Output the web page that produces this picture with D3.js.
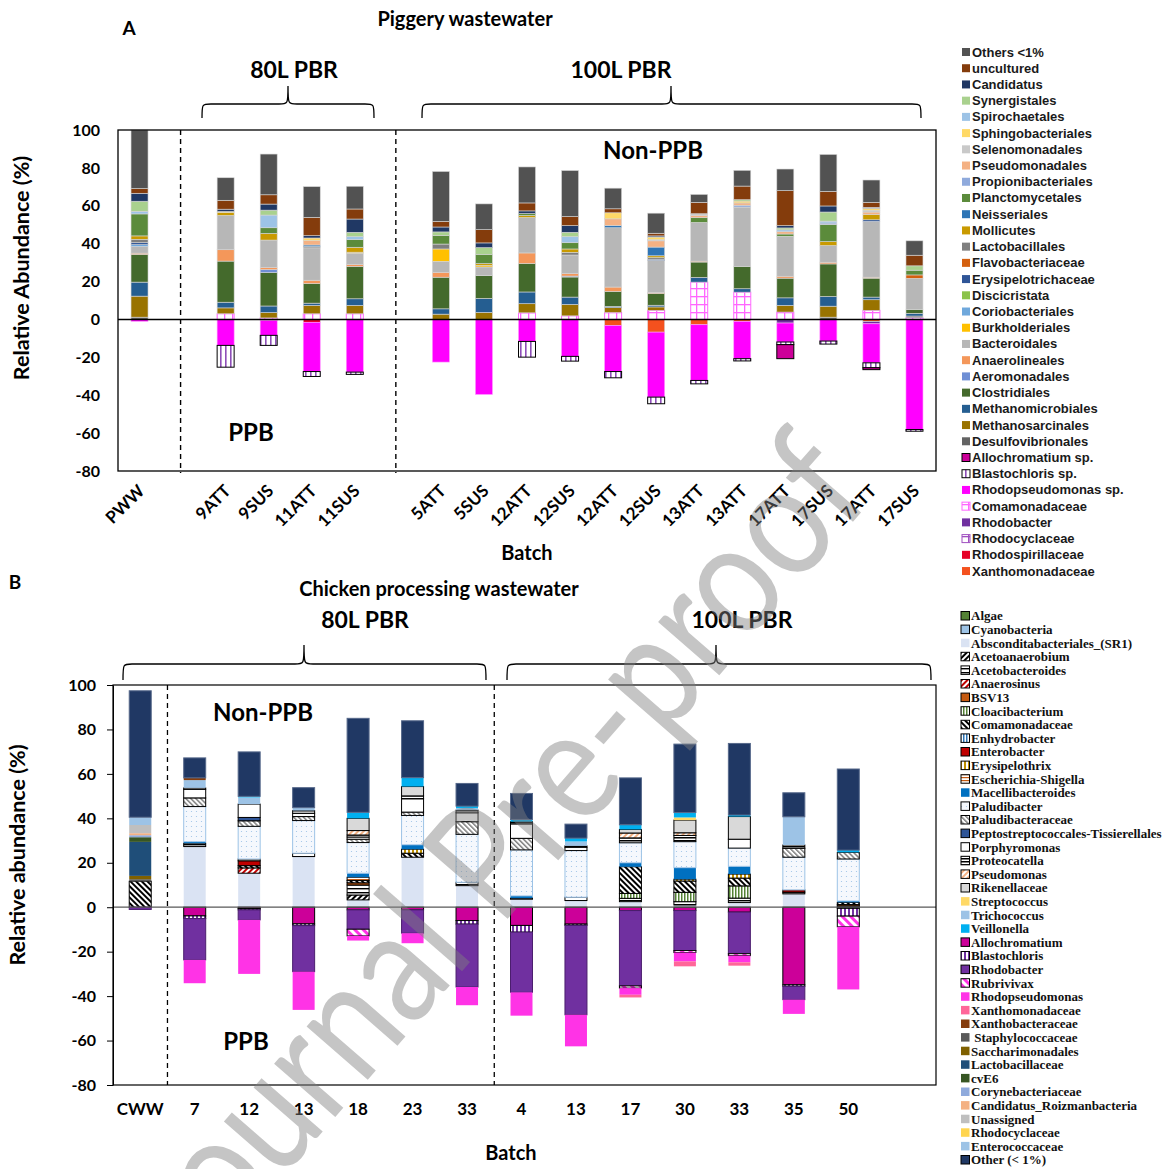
<!DOCTYPE html>
<html><head><meta charset="utf-8">
<script src="https://cdn.jsdelivr.net/npm/d3@7"></script>
<style>body{margin:0;background:#fff}text{white-space:pre}</style>
</head><body>
<svg id="c" width="1171" height="1169"></svg>
<script>
// ---------------- PANEL A DATA ----------------
const slotsA = ["PWW","","9ATT","9SUS","11ATT","11SUS","","5ATT","5SUS","12ATT","12SUS","12ATT","12SUS","13ATT","13ATT","17ATT","17SUS","17ATT","17SUS"];
const seriesA = ["Others <1%","uncultured","Candidatus","Synergistales","Spirochaetales","Sphingobacteriales","Selenomonadales","Pseudomonadales","Propionibacteriales","Planctomycetales","Neisseriales","Mollicutes","Lactobacillales","Flavobacteriaceae","Erysipelotrichaceae","Discicristata","Coriobacteriales","Burkholderiales","Bacteroidales","Anaerolineales","Aeromonadales","Clostridiales","Methanomicrobiales","Methanosarcinales","Desulfovibrionales","Allochromatium sp.","Blastochloris sp.","Rhodopseudomonas sp.","Comamonadaceae","Rhodobacter","Rhodocyclaceae","Rhodospirillaceae","Xanthomonadaceae"];
const valuesA = [
 [30.9,0,11.9,21.5,16.2,12.0,0,26.3,13.6,19.0,24.3,10.9,10.6,4.2,8.3,11.4,19.5,11.8,7.6],
 [2.5,0,4.7,4.9,9.7,5.3,0,3.0,7.0,4.2,4.8,2.1,1.4,6.0,7.2,18.5,7.7,2.6,5.6],
 [4.2,0,1.2,3.2,1.2,7.0,0,2.6,2.5,1.4,3.5,0,0.6,0,0,1.2,3.2,0.5,0],
 [5.3,0,0,2.6,0,2.3,0,1.8,3.5,0,2.3,0,0,0,0.7,1.0,4.8,0,2.3],
 [1.4,0,0,6.7,0,1.6,0,0,0,0,3.2,0,0,0,0,1.0,1.0,0,0],
 [0,0,0.6,0,1.4,0,0,0,0,0,0,3.2,1.4,0,1.0,0,0,1.0,0],
 [0,0,0,0,0,0,0,0,0,0,0,0,0.6,0.8,0,0,0,1.0,0],
 [0,0,0,0,2.3,0,0,0,0,0,0,3.5,3.3,1.3,1.2,1.2,0,1.3,0],
 [0,0,0,0,0,0,0,0,0,0,0,0,0,0,1.0,0,0.8,0,0],
 [11.6,0,0,3.0,0,4.0,0,4.6,4.9,1.0,3.3,0,0,2.5,0,1.2,9.0,0,2.5],
 [0,0,0,0,0.9,0,0,0,0,0,0,1.2,4.6,0,0,0,0,0,0],
 [1.8,0,1.5,3.5,0,2.6,0,0,0.9,1.1,1.8,0,1.0,0,0,0,2.1,2.8,0],
 [1.8,0,0,0,0.6,0,0,2.6,0,0,1.4,0,0.8,0,0,0,0,0,0],
 [0,0,0,0,0,0,0,0,0,0,0,0,0,0,0,0,0,0,1.8],
 [1.0,0,0,0,0,0,0,0,0,0,0,0,0.7,0,0,0,0,0.9,0],
 [0,0,0,0,0,0,0,0,0,0,0,0,0,0,0,0,0,0,0],
 [1.0,0,0,0,0,0,0,0,0,0,0,0,0,0,0,0,0,0,0],
 [0,0,0,0,0,0.5,0,6.5,0.9,0,0,0,0,0,0,0,0,0,0],
 [3.5,0,18.1,14.4,17.1,6.0,0,5.8,4.6,18.7,9.7,31.3,16.9,20.4,31.3,21.1,8.8,29.4,16.4],
 [0.7,0,6.0,1.2,1.8,1.0,0,2.6,0,5.6,1.4,2.3,0.5,0.5,0,1.0,0.9,0.5,0],
 [0,0,0,1.6,0,0,0,0,0,0,0.5,0,0,0,0,0,0,0,0],
 [14.6,0,21.7,17.6,10.3,17.1,0,16.7,12.0,15.0,10.6,7.9,6.2,8.1,11.8,10.4,17.2,10.0,2.1],
 [7.4,0,3.0,3.5,1.2,3.5,0,2.8,7.4,6.2,3.9,0.7,0.9,2.5,1.8,4.0,5.1,1.4,1.4],
 [11.1,0,3.1,2.8,4.4,4.4,0,2.8,3.7,4.8,6.0,2.5,1.8,0,0,3.5,5.8,5.6,0],
 [1.2,0,0,0,0,0,0,0,0,0,0,0,0,0,0,0,1.2,0,0.9],
 [0,0,0,0,0,0,0,0,0,0,0,0,0,0,0,-7.4,0,-1.0,0],
 [0,0,-11.5,-5.3,-2.6,-1.2,0,0,0,-8.3,-2.5,-3.3,-3.5,-1.8,-1.2,-1.4,-1.6,-2.6,-0.9],
 [-1.0,0,-13.7,-7.9,-26.0,-27.8,0,-22.5,-39.6,-11.6,-19.5,-24.3,-34.3,-29.4,-19.7,-10.0,-11.4,-20.6,-58.1],
 [0,0,3.0,0.8,3.0,3.0,0,0,0,3.5,1.9,3.7,4.8,19.7,14.4,3.9,0,4.8,0.9],
 [0,0,0,0,0,0,0,0,0,0,0,0,0,0,0,-1.9,0,-1.2,0],
 [0,0,0,0,0,0,0,0,0,0,0,0,0,0,0,0,0,0,0],
 [0,0,0,-0.5,-1.5,0,0,0,0,0,0,0,0,0,0,0,0,0,0],
 [0,0,0,0,0,0,0,0,0,0,0,-3.2,-6.7,-2.8,-1.0,0,0,-1.1,0]
];
const ticksA = [100,80,60,40,20,0,-20,-40,-60,-80];

// ---------------- PANEL B DATA ----------------
const catsB = ["CWW","7","12","13","18","23","33","4","13","17","30","33","35","50"];
const seriesB = ["Algae","Cyanobacteria","Absconditabacteriales_(SR1)","Acetoanaerobium","Acetobacteroides","Anaerosinus","BSV13","Cloacibacterium","Comamonadaceae","Enhydrobacter","Enterobacter","Erysipelothrix","Escherichia-Shigella","Macellibacteroides","Paludibacter","Paludibacteraceae","Peptostreptococcales-Tissierellales","Porphyromonas","Proteocatella","Pseudomonas","Rikenellaceae","Streptococcus","Trichococcus","Veillonella","Allochromatium","Blastochloris","Rhodobacter","Rubrivivax","Rhodopseudomonas","Xanthomonadaceae","Xanthobacteraceae"," Staphylococcaceae","Saccharimonadales","Lactobacillaceae","cvE6","Corynebacteriaceae","Candidatus_Roizmanbacteria","Unassigned","Rhodocyclaceae","Enterococcaceae","Other (< 1%)"];
const valuesB = [
 [0,0,0,0,0,0,0,0,0,0,0,0,0,0],
 [0,0,0,0,0,0,0,0,0,0,0,0,0,0],
 [0,27.3,15.3,22.8,3.3,22.5,9.7,3.6,3.0,2.5,1.0,2.1,6.0,0],
 [0,0,0,0,2.2,0,0,0,0,0,0,0,0,0],
 [0,1.5,0,1.5,4.5,0,1.5,0.5,1.5,1.5,1.5,2.0,0.8,0.6],
 [0,0,2.4,0,0,0,0,0,0,0,0,0,0,0],
 [0,0,0,0,1.0,0,0,0,0,0,0,0,0,0.6],
 [0,0,0,0,0,0,0,0,0,2.2,4.2,5.5,0,0],
 [11.7,0,1.0,0,1.0,1.8,0,0,0,12.0,5.1,3.5,0,1.0],
 [0,0,0,0,0,0,0,0,0,0,0,0,0,0],
 [0,0,2.2,0,0,0,0,0,0,0,0,0,1.0,0],
 [0,0,0,0,0,1.8,0,0,0,0,0.8,1.8,0,0],
 [0,0,0.8,0,1.5,0,0,0,0,0,0,0,0,0],
 [0,0.7,0,0,1.8,2.0,0,1.0,0,1.8,5.2,3.5,0,0.6],
 [0,15.8,14.7,14.7,13.8,13.2,21.6,20.7,21.0,9.0,11.7,8.2,14.7,18.9],
 [0,3.9,2.5,1.8,1.5,1.5,5.7,5.2,0,0,0,0,4.0,3.0],
 [0,0,1.5,0,0,0,0,0,0,0,0,0,0,0],
 [0,3.9,6.0,1.5,1.0,6.0,4.0,6.5,1.5,0,0,4.0,0,0],
 [0,0.6,0,1.2,0.9,1.3,1.2,1.0,0.6,2.2,2.8,0,1.5,0],
 [0,0,0,0,2.0,0,0,0,0,2.2,1.2,0,0,0],
 [0,0,0,0,5.5,4.2,0,0,0,1.6,5.7,10.2,0,0],
 [0,0,0,0,0,0,0,0,0,0,1.2,0,0,0],
 [0,3.5,3.0,1.3,0,0,0.9,0,2.0,0,0,0,12.7,0],
 [0,0,0.5,0,2.7,4.0,0.9,1.0,1.5,2.1,2.2,0.7,0,1.0],
 [0,-3.9,-0.6,-7.5,-1.2,-1.2,-6.0,-8.2,-7.6,-1.5,-1.5,-2.2,-34.9,-0.5],
 [0,-1.2,-0.6,-0.8,0,0,-1.6,-3.0,-0.6,0,0,0,-0.7,-3.5],
 [-1.0,-18.6,-4.5,-20.7,-8.7,-10.5,-28.3,-27.1,-40.2,-33.9,-18.0,-18.7,-6.0,0],
 [0,0,0,0,-3.0,0,0,0,0,-1.0,-0.9,-0.9,0,-4.8],
 [0,-10.5,-24.3,-17.2,-2.1,-4.5,-8.2,-10.5,-14.2,-3.0,-4.0,-3.0,-6.4,-28.2],
 [0,0,0,0,0,0,0,0,0,-1.2,-2.2,-1.5,0,0],
 [0,1.0,0,0,0,0,0,0,0,0,0,0,0,0],
 [0.9,0,0,0,0,0,0,0,0,0,0,0,0,0],
 [1.5,0,0,0,0,0,0,0,0,0,0,0,0,0],
 [15.3,0,0,0,0,0,0,0,0,0,0,0,0,0],
 [2.1,0,0,0,0,0,0,0,0,0,0,0,0,0],
 [0.9,0,0,0,0,0,0,0,0,0,0,0,0,0],
 [0.9,0,0,0,0,0,0,0,0,0,0,0,0,0],
 [3.7,0,0,0,0,0,0,0,0,0,0,0,0,0],
 [0,0,0,0,0,0,0,0,0,0,0,0,0,0],
 [3.5,0,0,0,0,0,0,0,0,0,0,0,0,0],
 [56.9,9.0,20.0,9.0,42.3,25.6,10.2,11.7,6.3,21.1,30.8,32.2,10.8,36.5]
];
const ticksB = [100,80,60,40,20,0,-20,-40,-60,-80];

// ---------------- STYLES ----------------
const fillsA = ["#525252","#843C0C","#203864","#A9D18E","#9DC3E6","#FFD966","#C9C9C9","#F4B183","#8FAADC","#5B8B3B","#2E75B6","#C99A00","#7F7F7F","#D4600F","#2F5597","#8BC34A","#6FA8DC","#FFC000","#B7B7B7","#F4975A","#6F8FD5","#446A2C","#255E91","#997300","#636363","#CC0099","url(#pBlastoA)","#FF00FF","url(#pComaA)","#7030A0","url(#pRhodocycA)","#E60026","#F4511E"];
const strokesA = seriesA.map((s,i)=> i===25||i===26 ? "#000" : i===28 ? "#FF66FF" : i===30 ? "#A050C0" : i===27 ? "#FF99FF" : "#d6d6d6");

const fillsB = ["#548235","#9DC3E6","#DAE3F3","url(#pAcetoan)","url(#pAcetobac)","url(#pAnaer)","#C55A11","url(#pCloaci)","url(#pComa)","url(#pEnhy)","#C00000","url(#pErys)","url(#pEsch)","#0070C0","url(#pPalud)","url(#pPaludac)","#2F5597","#FFFFFF","url(#pProteo)","url(#pPseudo)","#D9D9D9","#FFD966","#9DC3E6","#00B0F0","#CC0099","url(#pBlastoB)","#7030A0","url(#pRubri)","#FF33E6","#FF6699","#843C0C","#595959","#7F6000","#1F4E79","#375623","#8FAADC","#F4B183","#BFBFBF","#FFD54F","#9DC3E6","#203864"];
const strokesB = ["#000","#000","none","#000","#000","#000","#000","#000","#000","#000","#000","#000","#000","none","#9DC3E6","#000","#000","#000","#000","#000","#000","none","none","none","#000","#000","#4B1E6E","#000","none","none","none","none","none","none","none","none","none","none","none","none","#56688A"];

const svg = d3.select("#c");
const defs = svg.append("defs");
function stripe(id, fg, bg, angle, size, w){
  const p = defs.append("pattern").attr("id",id).attr("patternUnits","userSpaceOnUse")
    .attr("width",size).attr("height",size).attr("patternTransform",`rotate(${angle})`);
  p.append("rect").attr("width",size).attr("height",size).attr("fill",bg);
  p.append("rect").attr("width",w).attr("height",size).attr("fill",fg);
}
function grid(id, fg, size, w){
  const p = defs.append("pattern").attr("id",id).attr("patternUnits","userSpaceOnUse").attr("width",size).attr("height",size);
  p.append("rect").attr("width",size).attr("height",size).attr("fill","#fff");
  p.append("rect").attr("width",w).attr("height",size).attr("fill",fg);
  p.append("rect").attr("width",size).attr("height",w).attr("fill",fg);
}
stripe("pBlastoA","#8E4FB8","#fff",0,5,1.6);
grid("pComaA","#FF66FF",8,1.3);
grid("pRhodocycA","#A050C0",8,1.3);
stripe("pAcetoan","#000","#fff",45,4,2);
stripe("pAcetobac","#000","#fff",90,4,1.4);
stripe("pAnaer","#C00000","#fff",45,4,2);
stripe("pCloaci","#548235","#fff",0,3,1.5);
stripe("pComa","#000","#fff",-45,4,2);
stripe("pEnhy","#2E75B6","#fff",0,3,1.5);
stripe("pErys","#BF9000","#fff",0,4,2);
stripe("pEsch","#C55A11","#fff",90,3,1.2);
stripe("pPaludac","#7F7F7F","#fff",-45,3.5,1.5);
stripe("pProteo","#000","#fff",90,3,1.5);
stripe("pPseudo","#F4B183","#fff",45,4,2);
stripe("pBlastoB","#7030A0","#fff",0,4,2);
stripe("pRubri","#FF33E6","#fff",-45,6,3);
(function(){
  const p = defs.append("pattern").attr("id","pPalud").attr("patternUnits","userSpaceOnUse").attr("width",5).attr("height",5);
  p.append("rect").attr("width",5).attr("height",5).attr("fill","#F5F8FD");
  p.append("circle").attr("cx",1.5).attr("cy",1.5).attr("r",0.6).attr("fill","#9DC3E6");
})();

const F = "Lato, 'Open Sans', sans-serif";
function brace(x1,x2,t,yTip,yMid,yEnd){
  const r=9;
  return `M${x1},${yEnd} C${x1},${yMid} ${x1},${yMid} ${x1+r},${yMid} L${t-r},${yMid} C${t},${yMid} ${t},${yMid} ${t},${yTip} C${t},${yMid} ${t},${yMid} ${t+r},${yMid} L${x2-r},${yMid} C${x2},${yMid} ${x2},${yMid} ${x2},${yEnd}`;
}
function txt(x,y,s,size,opts={}){
  const t = svg.append("text").attr("x",x).attr("y",y).text(s)
    .attr("font-family",opts.family||F).attr("font-weight",opts.weight||"bold")
    .attr("font-size",size).attr("text-anchor",opts.anchor||"middle").attr("fill",opts.fill||"#000");
  return t;
}
function drawStack(g, x, y, keys, values, nCols, barW, fills, strokes, sw){
  const rows = d3.range(nCols).map(i=>{const o={i}; keys.forEach((k,j)=>o[k]=values[j][i]); return o;});
  const stack = d3.stack().keys(keys).offset(d3.stackOffsetDiverging)(rows);
  stack.forEach((layer)=>{
    const j = keys.indexOf(layer.key);
    g.selectAll(null).data(layer.filter(d=>d[0]!==d[1])).enter().append("rect")
      .attr("x",d=>x(d.data.i)+(x.bandwidth()-barW)/2)
      .attr("width",barW)
      .attr("y",d=>y(Math.max(d[0],d[1])))
      .attr("height",d=>Math.abs(y(d[0])-y(d[1])))
      .attr("fill",fills[j])
      .attr("stroke",strokes[j]).attr("stroke-width",sw(j));
  });
}

// ================= PANEL A =================
const xA = d3.scaleBand().domain(d3.range(slotsA.length)).range([118,936]);
const yA = d3.scaleLinear().domain([-80,100]).range([471,130]);
const gA = svg.append("g");
const orderA = d3.range(seriesA.length).reverse();
drawStack(gA, xA, yA, orderA.map(i=>seriesA[i]), orderA.map(i=>valuesA[i]), slotsA.length, 17,
  orderA.map(i=>fillsA[i]), orderA.map(i=>strokesA[i]), j=>{const i=orderA[j]; return (i===25||i===26)?1:(i===28||i===30)?1:0.6;});
gA.append("line").attr("x1",118).attr("x2",936).attr("y1",yA(0)).attr("y2",yA(0)).attr("stroke","#000").attr("stroke-width",1.4);
gA.append("rect").attr("x",118).attr("y",130).attr("width",818).attr("height",341).attr("fill","none").attr("stroke","#000").attr("stroke-width",1.3);
[1,6].forEach(s=>gA.append("line").attr("x1",xA(s)+xA.bandwidth()/2-2).attr("x2",xA(s)+xA.bandwidth()/2-2)
  .attr("y1",130).attr("y2",473).attr("stroke","#000").attr("stroke-width",1.4).attr("stroke-dasharray","5,4"));
const axA = svg.append("g").attr("transform","translate(118,0)")
  .call(d3.axisLeft(yA).tickValues(ticksA).tickSize(0).tickPadding(18).tickFormat(d=>String(d)));
axA.select(".domain").remove();
axA.selectAll("text").attr("font-family",F).attr("font-weight","bold").attr("font-size",16).attr("fill","#000");
slotsA.forEach((s,i)=>{ if(!s) return;
  const cx = xA(i)+xA.bandwidth()/2;
  svg.append("text").attr("transform",`translate(${cx+6},${492}) rotate(-45)`).attr("text-anchor","end")
    .attr("font-family",F).attr("font-weight","bold").attr("font-size",17).text(s);
});
txt(527,560,"Batch",20);
svg.append("text").attr("transform","translate(29,268) rotate(-90)").attr("text-anchor","middle")
  .attr("font-family",F).attr("font-weight","bold").attr("font-size",21.5).text("Relative Abundance (%)");
txt(465,26,"Piggery wastewater",20);
txt(129,35,"A",19);
txt(294,78,"80L PBR",23);
txt(621,78,"100L PBR",23);
svg.append("path").attr("d",brace(202,374,288,86,104,118)).attr("fill","none").attr("stroke","#000").attr("stroke-width",1.3);
svg.append("path").attr("d",brace(422,921,671,86,104,118)).attr("fill","none").attr("stroke","#000").attr("stroke-width",1.3);
txt(653,159,"Non-PPB",24);
txt(251,441,"PPB",24);
// legend A
const lgA = svg.append("g");
seriesA.forEach((s,i)=>{
  const yy = 52 + i*16.22;
  lgA.append("rect").attr("x",962).attr("y",yy-4).attr("width",8).attr("height",8)
    .attr("fill",fillsA[i]).attr("stroke",(i===25||i===26)?"#000":(i===28)?"#FF66FF":(i===30)?"#A050C0":"none").attr("stroke-width",1);
  lgA.append("text").attr("x",972).attr("y",yy+4.5).attr("font-family","'Liberation Sans', Arial, sans-serif")
    .attr("font-weight","bold").attr("font-size",13).attr("fill","#1a1a1a").text(s);
});

// ================= PANEL B =================
const xB = d3.scaleBand().domain(d3.range(catsB.length+1)).range([113,930]);
const yB = d3.scaleLinear().domain([-80,100]).range([1085,685]);
const gB = svg.append("g");
drawStack(gB, xB, yB, seriesB, valuesB, catsB.length, 22, fillsB, strokesB, j=>strokesB[j]==="none"?0:1);
gB.append("line").attr("x1",113).attr("x2",936).attr("y1",yB(0)).attr("y2",yB(0)).attr("stroke","#595959").attr("stroke-width",1.2);
gB.append("rect").attr("x",113).attr("y",685).attr("width",823).attr("height",400).attr("fill","none").attr("stroke","#000").attr("stroke-width",1.2);
[0,6].forEach(s=>gB.append("line").attr("x1",xB(s)+xB.bandwidth()).attr("x2",xB(s)+xB.bandwidth())
  .attr("y1",685).attr("y2",1085).attr("stroke","#000").attr("stroke-width",1.3).attr("stroke-dasharray","5,4"));
const axB = svg.append("g").attr("transform","translate(113,0)")
  .call(d3.axisLeft(yB).tickValues(ticksB).tickSize(6).tickSizeOuter(0).tickPadding(11).tickFormat(d=>String(d)));
axB.selectAll("text").attr("font-family",F).attr("font-weight","bold").attr("font-size",16).attr("fill","#000");
axB.selectAll("line,path").attr("stroke","#000");
catsB.forEach((c,i)=>{
  svg.append("text").attr("x",xB(i)+xB.bandwidth()/2).attr("y",1115).attr("text-anchor","middle")
    .attr("font-family",F).attr("font-weight","bold").attr("font-size",17).text(c);
});
txt(511,1160,"Batch",20);
svg.append("text").attr("transform","translate(25,855) rotate(-90)").attr("text-anchor","middle")
  .attr("font-family",F).attr("font-weight","bold").attr("font-size",21.5).text("Relative abundance (%)");
txt(439,596,"Chicken processing wastewater",20);
txt(15,589,"B",19);
txt(365,628,"80L PBR",23);
txt(742,628,"100L PBR",23);
svg.append("path").attr("d",brace(123,486,304,645,664,680)).attr("fill","none").attr("stroke","#000").attr("stroke-width",1.3);
svg.append("path").attr("d",brace(507,931,716,645,664,680)).attr("fill","none").attr("stroke","#000").attr("stroke-width",1.3);
txt(263,721,"Non-PPB",24);
txt(246,1050,"PPB",24);
// legend B
const lgB = svg.append("g");
seriesB.forEach((s,i)=>{
  const yy = 616 + i*13.6;
  lgB.append("rect").attr("x",961).attr("y",yy-4.5).attr("width",8.5).attr("height",8.5)
    .attr("fill",fillsB[i]).attr("stroke",strokesB[i]==="none"?"none":"#000").attr("stroke-width",1);
  lgB.append("text").attr("x",971).attr("y",yy+4.3).attr("font-family","'Liberation Serif', 'Times New Roman', serif")
    .attr("font-weight","bold").attr("font-size",13).attr("fill","#111").text(s);
});

// watermark
svg.append("text").attr("transform","translate(487,848) rotate(-49)").attr("text-anchor","middle")
  .attr("dominant-baseline","central").attr("font-family",F).attr("font-weight","normal").attr("font-size",160)
  .attr("fill","#808080").attr("opacity",0.45).attr("textLength",1040).attr("lengthAdjust","spacingAndGlyphs")
  .text("Journal Pre-proof");
</script></body></html>
